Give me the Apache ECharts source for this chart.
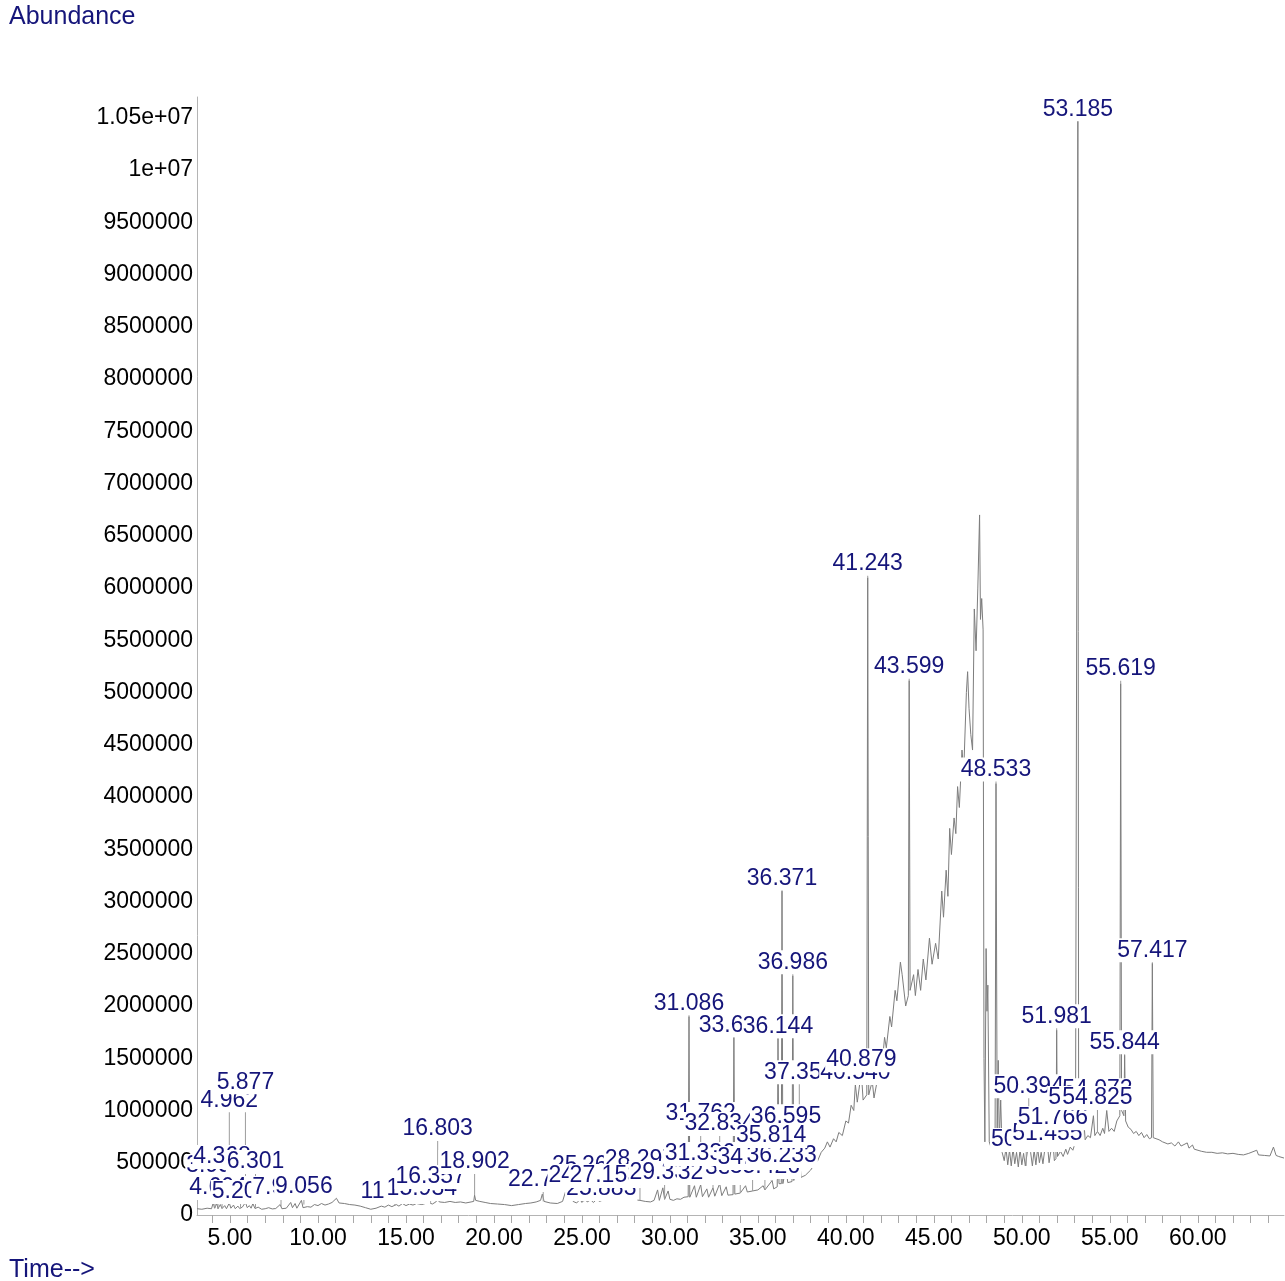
<!DOCTYPE html>
<html><head><meta charset="utf-8">
<script src="https://cdn.jsdelivr.net/npm/echarts@6/dist/echarts.min.js"></script>
<style>html,body{margin:0;padding:0;background:#fff}#c{width:1285px;height:1281px}</style>
</head><body><div id="c"></div>
<script>
// ---- data ----
const chromatogram = [
[3.13,60000],[3.4,55000],[3.7,65000],[3.95,60000],[4.05,120000],[4.12,65000],[4.25,110000],[4.32,60000],[4.45,100000],[4.55,62000],[4.7,90000],[4.8,60000],[4.96,115000],[5.05,65000],[5.2,95000],[5.3,60000],[5.45,85000],[5.55,62000],[5.7,75000],[5.88,120000],[5.98,70000],[6.1,90000],[6.2,65000],[6.3,110000],[6.42,62000],[6.6,75000],[6.8,55000],[7.0,60000],[7.2,70000],[7.4,58000],[7.6,62000],[7.85,100000],[7.95,60000],[8.2,65000],[8.45,120000],[8.55,70000],[8.7,110000],[8.8,65000],[9.06,140000],[9.15,70000],[9.4,80000],[9.6,75000],[9.8,100000],[10.0,90000],[10.2,110000],[10.4,95000],[10.6,105000],[10.8,120000],[11.05,160000],[11.2,115000],[11.5,110000],[11.8,100000],[12.1,95000],[12.4,85000],[12.7,70000],[13.0,55000],[13.3,65000],[13.6,85000],[13.8,75000],[14.0,95000],[14.2,80000],[14.45,100000],[14.6,85000],[14.8,110000],[15.0,90000],[15.2,105000],[15.4,95000],[15.6,110000],[15.9,100000],[16.1,110000],[16.35,115000],[16.5,105000],[16.7,125000],[16.8,150000],[16.9,125000],[17.2,120000],[17.5,130000],[17.8,120000],[18.1,125000],[18.4,115000],[18.7,125000],[18.85,130000],[18.9,190000],[18.96,140000],[19.2,130000],[19.5,120000],[19.8,110000],[20.2,105000],[20.6,100000],[21.0,90000],[21.4,100000],[21.8,110000],[22.1,115000],[22.4,125000],[22.65,140000],[22.75,200000],[22.85,130000],[23.2,115000],[23.6,110000],[23.9,130000],[24.1,240000],[24.25,180000],[24.5,130000],[24.7,115000],[24.9,150000],[25.0,120000],[25.2,160000],[25.3,125000],[25.5,145000],[25.65,120000],[25.85,150000],[26.0,130000],[26.3,150000],[26.6,160000],[26.9,165000],[27.15,175000],[27.4,160000],[27.7,150000],[28.0,145000],[28.3,140000],[28.6,130000],[28.9,125000],[29.1,140000],[29.3,240000],[29.4,140000],[29.6,260000],[29.7,150000],[29.9,230000],[30.0,150000],[30.2,140000],[30.4,155000],[30.6,150000],[30.8,170000],[31.04,175000],[31.086,1900000],[31.13,170000],[31.4,280000],[31.5,170000],[31.75,290000],[31.85,175000],[32.1,250000],[32.2,170000],[32.45,260000],[32.55,180000],[32.83,300000],[32.95,185000],[33.2,270000],[33.3,190000],[33.59,195000],[33.637,1700000],[33.69,200000],[34.0,210000],[34.3,280000],[34.4,220000],[34.7,230000],[35.0,240000],[35.3,280000],[35.4,240000],[35.81,330000],[35.9,250000],[36.1,270000],[36.144,1690000],[36.2,300000],[36.33,300000],[36.371,3100000],[36.42,300000],[36.6,450000],[36.7,310000],[36.94,320000],[36.986,2290000],[37.04,330000],[37.35,600000],[37.45,360000],[37.7,380000],[38.0,430000],[38.2,480000],[38.4,520000],[38.6,600000],[38.8,640000],[38.95,700000],[39.1,650000],[39.3,730000],[39.45,700000],[39.6,790000],[39.8,760000],[40.0,900000],[40.15,880000],[40.3,1050000],[40.45,1000000],[40.54,1250000],[40.65,1080000],[40.879,1370000],[40.98,1100000],[41.19,1150000],[41.243,6100000],[41.3,1150000],[41.5,1280000],[41.6,1120000],[41.8,1300000],[41.95,1500000],[42.05,1420000],[42.2,1700000],[42.3,1600000],[42.5,1900000],[42.6,1800000],[42.8,2150000],[42.9,2050000],[43.1,2420000],[43.2,2300000],[43.4,2000000],[43.55,2100000],[43.599,5115000],[43.65,2150000],[43.85,2300000],[43.95,2100000],[44.1,2350000],[44.25,2150000],[44.4,2450000],[44.55,2250000],[44.75,2650000],[44.9,2400000],[45.1,2600000],[45.25,2450000],[45.45,3100000],[45.55,2850000],[45.7,3300000],[45.8,3050000],[45.9,3700000],[46.0,3450000],[46.15,3800000],[46.25,3650000],[46.35,4100000],[46.45,3900000],[46.6,4450000],[46.7,4250000],[46.85,5000000],[46.92,5200000],[47.0,4850000],[47.1,4600000],[47.2,4450000],[47.3,5800000],[47.4,5400000],[47.5,6000000],[47.6,6700000],[47.65,5700000],[47.72,5900000],[47.8,5600000],[47.85,1500000],[47.9,700000],[47.97,2550000],[48.02,1950000],[48.07,2200000],[48.15,700000],[48.3,620000],[48.48,700000],[48.533,4130000],[48.6,800000],[48.66,1480000],[48.72,700000],[48.8,1100000],[48.88,600000],[49.0,520000],[49.1,640000],[49.2,480000],[49.3,620000],[49.4,470000],[49.5,640000],[49.6,490000],[49.7,600000],[49.8,460000],[49.9,630000],[50.0,480000],[50.1,590000],[50.2,470000],[50.394,700000],[50.5,600000],[50.6,470000],[50.7,620000],[50.8,480000],[50.9,640000],[51.0,500000],[51.1,600000],[51.2,490000],[51.3,620000],[51.455,680000],[51.55,500000],[51.65,610000],[51.766,700000],[51.85,520000],[51.94,540000],[51.981,1769000],[52.03,560000],[52.2,610000],[52.35,560000],[52.5,630000],[52.6,580000],[52.75,650000],[52.9,620000],[53.05,700000],[53.14,690000],[53.185,10478000],[53.23,690000],[53.45,720000],[53.5,960000],[53.6,720000],[53.75,760000],[53.9,740000],[54.07,950000],[54.15,760000],[54.3,800000],[54.45,760000],[54.6,830000],[54.7,780000],[54.825,1000000],[54.95,800000],[55.1,830000],[55.25,800000],[55.4,900000],[55.57,950000],[55.619,5086000],[55.67,1000000],[55.8,950000],[55.844,1530000],[55.9,900000],[56.05,840000],[56.2,820000],[56.35,780000],[56.5,800000],[56.65,760000],[56.8,790000],[56.95,740000],[57.1,770000],[57.25,730000],[57.37,740000],[57.417,2409000],[57.47,740000],[57.8,720000],[58.0,700000],[58.3,680000],[58.5,690000],[58.7,660000],[58.9,700000],[59.05,660000],[59.4,690000],[59.5,640000],[59.7,670000],[59.8,630000],[60.2,610000],[60.5,600000],[60.8,600000],[61.1,590000],[61.4,595000],[61.7,585000],[62.0,590000],[62.3,580000],[62.6,575000],[62.9,590000],[63.35,620000],[63.45,575000],[63.8,570000],[64.1,565000],[64.3,650000],[64.45,570000],[64.6,560000],[64.9,545000]
];

// peak labels in drawing order (later ones cover earlier ones)
const labelText = ["3.953","4.368","4.604","4.962","5.203","5.877","6.301","7.923","9.056","11.455","15.934","16.357","16.803","18.902","22.745","25.208","26.882","28.297","25.883","24.228","27.153","29.331","32.451","33.987","35.426","31.336","34.612","36.233","31.762","32.834","36.595","35.814","31.086","33.637","36.144","36.371","36.986","37.354","40.540","40.879","41.243","43.599","48.533","50.275","51.455","51.766","50.394","53.498","54.072","54.825","51.981","53.185","55.619","55.844","57.417"];
const labelTime = [4.15,4.55,4.32,4.962,5.6,5.877,6.45,7.9,9.2,14.37,15.9,16.4,16.803,18.902,22.8,25.3,27.0,28.3,26.1,25.1,26.3,29.7,32.45,34.0,35.4,31.7,34.7,36.35,31.75,32.83,36.6,35.75,31.086,33.637,36.144,36.371,36.986,37.354,40.54,40.879,41.243,43.599,48.533,50.25,51.455,51.766,50.394,53.5,54.3,54.3,51.981,53.185,55.619,55.844,57.417];
const labelPeak = [65000,62000,60000,115000,70000,120000,70000,80000,100000,90000,100000,110000,150000,190000,130000,125000,165000,140000,140000,130000,150000,150000,260000,210000,240000,290000,230000,300000,290000,300000,450000,330000,1900000,1700000,1690000,3100000,2290000,600000,1250000,1370000,6100000,5115000,4130000,470000,680000,700000,700000,960000,800000,800000,1769000,10478000,5086000,1530000,2409000];
const labelLevel = [468000,554000,258000,1099000,220000,1271000,507000,258000,268000,220000,249000,363000,822000,507000,335000,468000,468000,525000,249000,373000,373000,402000,402000,449000,459000,583000,545000,564000,966000,870000,946000,755000,2027000,1816000,1807000,3222000,2419000,1367000,1358000,1482000,6233000,5248000,4264000,717000,774000,927000,1233000,1119000,1195000,1119000,1902000,10583000,5229000,1654000,2533000];

const xLabelValues = [5,10,15,20,25,30,35,40,45,50,55,60];
const xTickValues = [4,5,6,7,8,9,10,11,12,13,14,15,16,17,18,19,20,21,22,23,24,25,26,27,28,29,30,31,32,33,34,35,36,37,38,39,40,41,42,43,44,45,46,47,48,49,50,51,52,53,54,55,56,57,58,59,60,61,62,63,64];
const yTickValues = [0,500000,1000000,1500000,2000000,2500000,3000000,3500000,4000000,4500000,5000000,5500000,6000000,6500000,7000000,7500000,8000000,8500000,9000000,9500000,10000000,10500000];
const yTickLabels = ["0","500000","1000000","1500000","2000000","2500000","3000000","3500000","4000000","4500000","5000000","5500000","6000000","6500000","7000000","7500000","8000000","8500000","9000000","9500000","1e+07","1.05e+07"];

// ---- chart ----
const NAVY = '#15157a';
const FONT = '"Liberation Sans", Arial, sans-serif';
const labelRows = labelText.map((t, i) => [labelTime[i], labelPeak[i], labelLevel[i], i]);

const chart = echarts.init(document.getElementById('c'), null, {renderer: 'canvas'});
chart.setOption({
  animation: false,
  backgroundColor: '#ffffff',
  grid: {left: 197, right: 1, top: 97, bottom: 66},
  xAxis: {
    type: 'value', min: 3.125, max: 64.9,
    axisLine: {show: true, lineStyle: {color: '#b4b4b4', width: 1}},
    axisTick: {show: true, customValues: xTickValues, length: 8, lineStyle: {color: '#a8a8a8'}},
    axisLabel: {customValues: xLabelValues, formatter: v => Number(v).toFixed(2), fontSize: 23, fontFamily: FONT, color: '#000', margin: 12},
    splitLine: {show: false}
  },
  yAxis: {
    type: 'value', min: 0, max: 10700000,
    axisLine: {show: true, lineStyle: {color: '#b4b4b4', width: 1}},
    axisTick: {show: false},
    axisLabel: {customValues: yTickValues, formatter: v => yTickLabels[yTickValues.indexOf(v)], fontSize: 23, fontFamily: FONT, color: '#000', margin: 4},
    splitLine: {show: false}
  },
  graphic: [
    {type: 'text', left: 9, top: 5, style: {text: 'Abundance', font: '25px ' + FONT, fill: NAVY}},
    {type: 'text', left: 9, top: 1258, style: {text: 'Time-->', font: '25px ' + FONT, fill: NAVY}}
  ],
  series: [
    {
      type: 'line', data: chromatogram, showSymbol: false, symbol: 'none', z: 2,
      lineStyle: {color: '#7d7d7d', width: 1}, sampling: 'none', silent: true
    },
    {
      type: 'custom', data: labelRows, z: 3, clip: false, silent: true,
      encode: {x: 0, y: 1},
      renderItem: function (params, api) {
        const p0 = api.coord([api.value(0), api.value(1)]);
        const pm = api.coord([api.value(0), api.value(2)]);
        const yb = pm[1] + 11;
        if (p0[1] <= yb + 1) return {type: 'group', children: []};
        return {type: 'line', shape: {x1: p0[0], y1: p0[1], x2: p0[0], y2: yb},
                style: {stroke: '#9c9c9c', lineWidth: 1}};
      }
    },
    {
      type: 'custom', data: labelRows, z: 4, clip: false, silent: true,
      encode: {x: 0, y: 2},
      renderItem: function (params, api) {
        const pm = api.coord([api.value(0), api.value(2)]);
        const idx = api.value(3);
        return {
          type: 'text', x: pm[0], y: pm[1],
          style: {text: labelText[idx], font: '23px ' + FONT, fill: NAVY,
                  align: 'center', verticalAlign: 'middle',
                  backgroundColor: '#ffffff', padding: [1, 1, 0, 1]}
        };
      }
    }
  ]
});
</script>
</body></html>
